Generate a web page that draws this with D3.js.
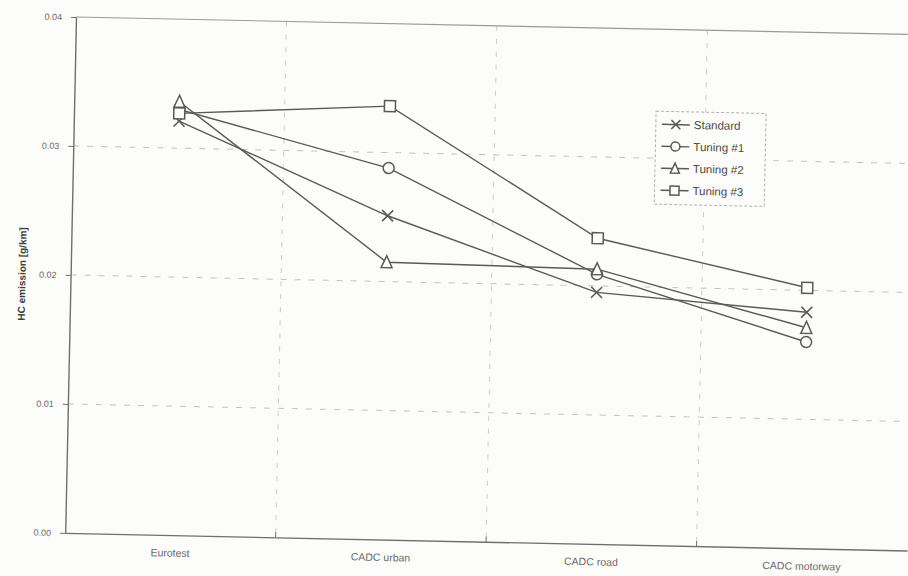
<!DOCTYPE html>
<html>
<head>
<meta charset="utf-8">
<script src="https://cdn.jsdelivr.net/npm/d3@7/dist/d3.min.js"></script>
<style>
  html, body { margin: 0; padding: 0; background: #fcfcfa; }
  svg { display: block; }
  text { font-family: "Liberation Sans", Arial, sans-serif; }
</style>
</head>
<body>
<svg id="chart" width="908" height="576"></svg>
<script>
const categories = ["Eurotest", "CADC urban", "CADC road", "CADC motorway"];
const standard = [0.0321, 0.0251, 0.0195, 0.0183];
const tuning1  = [0.0330, 0.0288, 0.0209, 0.0160];
const tuning2  = [0.0336, 0.0215, 0.0213, 0.0171];
const tuning3  = [0.0327, 0.0336, 0.0237, 0.0202];
const seriesNames = ["Standard", "Tuning #1", "Tuning #2", "Tuning #3"];
const markerTypes = ["x", "circle", "triangle", "square"];
const yTicks = [0, 0.01, 0.02, 0.03, 0.04];
const yTitle = "HC emission [g/km]";

const series = [standard, tuning1, tuning2, tuning3].map((vals, i) => ({
  name: seriesNames[i], marker: markerTypes[i], values: vals
}));

const W = 842, H = 516;
const ink = "#5a5a58";
const textInk = "#6a6a68";

const svg = d3.select("#chart");
svg.append("rect").attr("width", 908).attr("height", 576).attr("fill", "#fcfcfa");

const g = svg.append("g").attr("transform", "translate(76,17) rotate(1.2)");

const x = d3.scaleBand().domain(categories).range([0, W]);
const y = d3.scaleLinear().domain([0, 0.04]).range([H, 0]);

// horizontal gridlines
g.append("g").selectAll("line").data(yTicks.filter(t => t > 0 && t < 0.04)).join("line")
  .attr("x1", 0).attr("x2", W)
  .attr("y1", d => y(d)).attr("y2", d => y(d))
  .attr("stroke", "#c2c2c0").attr("stroke-width", 1)
  .attr("stroke-dasharray", "6,8");

// vertical gridlines at category boundaries
const bounds = categories.slice(1).map(c => x(c));
g.append("g").selectAll("line").data(bounds).join("line")
  .attr("x1", d => d).attr("x2", d => d)
  .attr("y1", 0).attr("y2", H)
  .attr("stroke", "#cbcbc9").attr("stroke-width", 1)
  .attr("stroke-dasharray", "5,8");

// frame: top line
g.append("line").attr("x1", 0).attr("x2", W).attr("y1", 0).attr("y2", 0)
  .attr("stroke", "#9a9a98").attr("stroke-width", 1.2);

// y axis
const yAxis = d3.axisLeft(y).tickValues(yTicks).tickFormat(d3.format(".2f"))
  .tickSizeInner(5).tickSizeOuter(0).tickPadding(9);
const ya = g.append("g").call(yAxis);
ya.select(".domain").attr("stroke", "#6f6f6d").attr("stroke-width", 1.4);
ya.selectAll(".tick line").attr("stroke", "#6f6f6d");
ya.selectAll(".tick text").attr("fill", textInk).attr("font-size", 9);

// x axis
const xAxis = d3.axisBottom(x).tickSize(0).tickPadding(14);
const xa = g.append("g").attr("transform", `translate(0,${H})`).call(xAxis);
xa.select(".domain").attr("stroke", "#6f6f6d").attr("stroke-width", 1.4);
xa.selectAll(".tick text").attr("fill", textInk).attr("font-size", 10.5);
g.append("g").selectAll("line").data(bounds).join("line")
  .attr("x1", d => d).attr("x2", d => d)
  .attr("y1", H - 5).attr("y2", H)
  .attr("stroke", "#6f6f6d");

// y title
g.append("text")
  .attr("transform", `translate(${-45},${H / 2}) rotate(-90)`)
  .attr("text-anchor", "middle")
  .attr("font-size", 10).attr("font-weight", "bold").attr("fill", "#3e3e3c")
  .text(yTitle);

// marker drawing
function drawMarker(sel, type, s) {
  if (type === "x") {
    sel.append("path").attr("d", `M${-s},${-s}L${s},${s}M${-s},${s}L${s},${-s}`)
      .attr("stroke", ink).attr("stroke-width", 1.6).attr("fill", "none");
  } else if (type === "circle") {
    sel.append("circle").attr("r", s).attr("fill", "#fcfcfa")
      .attr("stroke", ink).attr("stroke-width", 1.5);
  } else if (type === "triangle") {
    sel.append("path").attr("d", `M0,${-s - 1}L${s},${s}L${-s},${s}Z`)
      .attr("fill", "#fcfcfa").attr("stroke", ink).attr("stroke-width", 1.5);
  } else {
    sel.append("rect").attr("x", -s).attr("y", -s).attr("width", 2 * s).attr("height", 2 * s)
      .attr("fill", "#fcfcfa").attr("stroke", ink).attr("stroke-width", 1.5);
  }
}

const cx = c => x(c) + x.bandwidth() / 2;
const line = d3.line().x((d, i) => cx(categories[i])).y(d => y(d));

series.forEach(s => {
  g.append("path").datum(s.values).attr("d", line)
    .attr("fill", "none").attr("stroke", ink).attr("stroke-width", 1.4);
});
series.forEach(s => {
  s.values.forEach((v, i) => {
    const m = g.append("g").attr("transform", `translate(${cx(categories[i])},${y(v)})`);
    drawMarker(m, s.marker, 5.5);
  });
});

// legend
const lg = g.append("g").attr("transform", "translate(582,82)");
lg.append("rect").attr("width", 110).attr("height", 93)
  .attr("fill", "#fcfcfa").attr("stroke", "#b0b0ae").attr("stroke-width", 1)
  .attr("stroke-dasharray", "3,2");
series.forEach((s, i) => {
  const row = lg.append("g").attr("transform", `translate(0,${13 + i * 22})`);
  row.append("line").attr("x1", 6).attr("x2", 34).attr("y1", 0).attr("y2", 0)
    .attr("stroke", ink).attr("stroke-width", 1.5);
  const m = row.append("g").attr("transform", "translate(20,0)");
  drawMarker(m, s.marker, 4.5);
  row.append("text").attr("x", 38).attr("y", 4)
    .attr("font-size", 11.5).attr("fill", "#4a4a48").text(s.name);
});
</script>
</body>
</html>
